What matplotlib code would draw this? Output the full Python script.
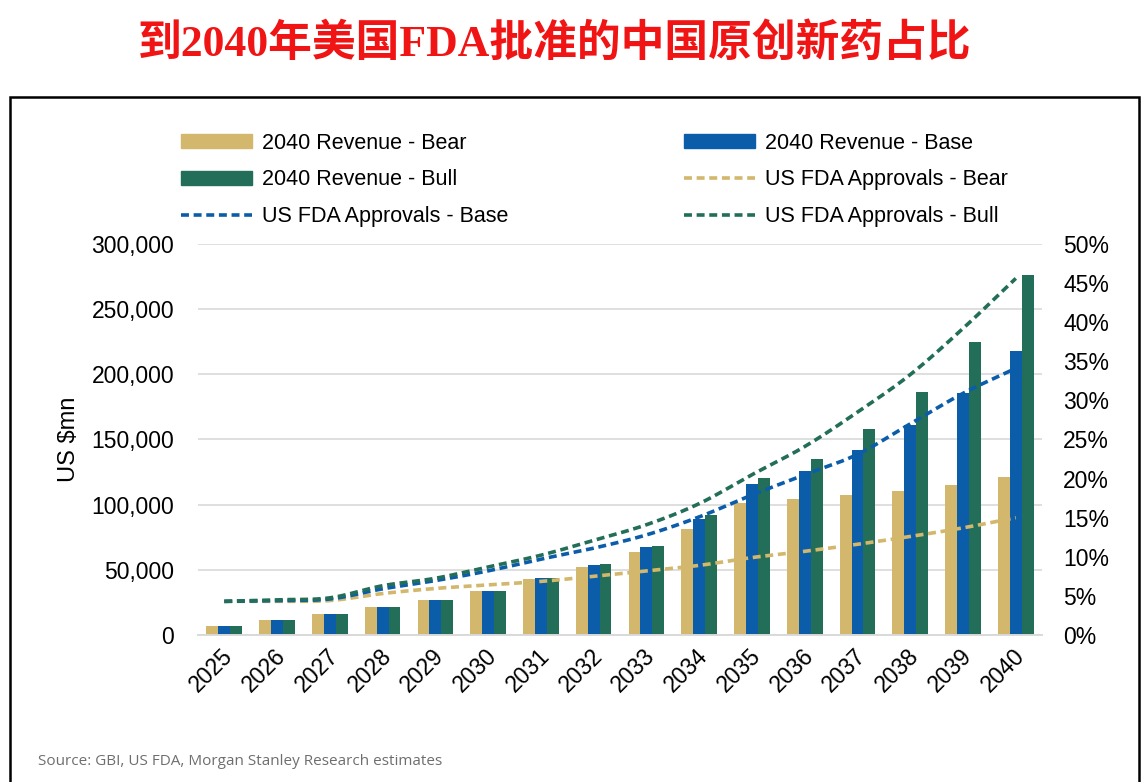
import matplotlib.pyplot as plt
import matplotlib.transforms as mtransforms
from matplotlib.patches import Patch, Rectangle
from matplotlib.lines import Line2D
from matplotlib.ticker import FuncFormatter
import numpy as np

years = [str(y) for y in range(2025, 2041)]

rev_bear = [7000, 11500, 16000, 21300, 26900, 33500, 43000, 52200, 63900, 81300,
            101500, 104100, 107400, 110700, 115100, 121500]
rev_base = [7000, 11500, 16000, 21300, 26900, 33500, 44000, 53800, 67300, 89000,
            115600, 126100, 141900, 161100, 185900, 217900]
rev_bull = [7000, 11500, 16000, 21300, 26900, 33500, 44000, 54500, 68300, 92100,
            120700, 134800, 157800, 186400, 224500, 276200]

appr_bear = [4.3, 4.3, 4.4, 5.3, 5.95, 6.4, 6.85, 7.5, 8.2, 8.9,
             9.9, 10.7, 11.6, 12.6, 13.7, 15.0]
appr_base = [4.3, 4.4, 4.6, 5.9, 6.95, 8.2, 9.7, 11.1, 12.8, 15.1,
             17.9, 20.5, 23.1, 27.0, 30.9, 34.1]
appr_bull = [4.3, 4.5, 4.75, 6.3, 7.25, 8.7, 10.2, 12.1, 14.1, 16.8,
             20.5, 24.1, 28.5, 33.3, 39.2, 45.6]

c_bear = '#D2B76C'
c_base = '#0B5DAA'
c_bull = '#236E58'


def smooth(xs, ys, n=20):
    # catmull-rom, close to excel's smoothed line
    xs = np.asarray(xs, float)
    ys = np.asarray(ys, float)
    px = np.concatenate([[2 * xs[0] - xs[1]], xs, [2 * xs[-1] - xs[-2]]])
    py = np.concatenate([[2 * ys[0] - ys[1]], ys, [2 * ys[-1] - ys[-2]]])
    t = np.linspace(0, 1, n, endpoint=False)
    out_x, out_y = [], []
    for i in range(1, len(px) - 2):
        for p, out in ((px, out_x), (py, out_y)):
            p0, p1, p2, p3 = p[i - 1], p[i], p[i + 1], p[i + 2]
            out.extend(0.5 * (2 * p1 + (-p0 + p2) * t + (2 * p0 - 5 * p1 + 4 * p2 - p3) * t ** 2
                              + (-p0 + 3 * p1 - 3 * p2 + p3) * t ** 3))
    out_x.append(xs[-1])
    out_y.append(ys[-1])
    return out_x, out_y


plt.rcParams['font.family'] = ['Liberation Sans', 'DejaVu Sans']

fig = plt.figure(figsize=(11.44, 7.82), dpi=100)
ax = fig.add_axes([0.173, 0.188, 0.738, 0.5])
ax2 = ax.twinx()

x = np.arange(len(years))
w = 0.225
ax.bar(x - w, rev_bear, w, color=c_bear, zorder=2)
ax.bar(x, rev_base, w, color=c_base, zorder=2)
ax.bar(x + w, rev_bull, w, color=c_bull, zorder=2)

dash = (2.2, 1.3)
for vals, c in ((appr_bear, c_bear), (appr_base, c_base), (appr_bull, c_bull)):
    sx, sy = smooth(x, vals)
    ax2.plot(sx, sy, color=c, lw=2.6, dashes=dash)

ax.set_xlim(-0.5, len(years) - 0.5)
ax.set_ylim(0, 300000)
ax.set_yticks(range(0, 300001, 50000))
ax.yaxis.set_major_formatter(FuncFormatter(lambda v, p: f'{int(v):,}'))
ax2.set_ylim(0, 50)
ax2.set_yticks(range(0, 51, 5))
ax2.yaxis.set_major_formatter(FuncFormatter(lambda v, p: f'{int(v)}%'))

ax.grid(axis='y', color='#D9D9D9', lw=1.2, zorder=0)
for a in (ax, ax2):
    for s in ('top', 'left', 'right'):
        a.spines[s].set_visible(False)
    a.spines['bottom'].set_color('#D9D9D9')
    a.spines['bottom'].set_linewidth(1.2)
    a.tick_params(length=0, labelsize=16.5)
ax.tick_params(axis='y', pad=17)
ax2.tick_params(axis='y', pad=15)

ax.set_xticks(x)
ax.set_xticklabels(years, rotation=45, ha='right', rotation_mode='anchor')
ax.tick_params(axis='x', pad=7)
shift = mtransforms.ScaledTranslation(-0.03, 0, fig.dpi_scale_trans)
for lab in ax.get_xticklabels():
    lab.set_transform(lab.get_transform() + shift)

ax.set_ylabel('US $mn', fontsize=17, labelpad=8)

handles = [
    Patch(color=c_bear), Patch(color=c_bull),
    Line2D([], [], color=c_base, lw=2.6, dashes=dash),
    Patch(color=c_base),
    Line2D([], [], color=c_bear, lw=2.6, dashes=dash),
    Line2D([], [], color=c_bull, lw=2.6, dashes=dash),
]
labels = ['2040 Revenue - Bear', '2040 Revenue - Bull', 'US FDA Approvals - Base',
          '2040 Revenue - Base', 'US FDA Approvals - Bear', 'US FDA Approvals - Bull']
fig.legend(handles, labels, ncol=2, loc='center', bbox_to_anchor=(0.5195, 0.77),
           frameon=False, fontsize=15.5, handlelength=3.3, handleheight=0.6,
           handletextpad=0.45, columnspacing=8.15, labelspacing=0.72)

fig.text(0.485, 0.944, '到2040年美国FDA批准的中国原创新药占比', ha='center', va='center',
         fontsize=31.5, fontweight='bold', color='#F01414',
         family=['Liberation Serif', 'Noto Sans CJK SC'])

fig.text(0.033, 0.022, 'Source: GBI, US FDA, Morgan Stanley Research estimates',
         fontsize=11, color='#6E6E6E', family=['Open Sans', 'DejaVu Sans'])

fig.patches.append(Rectangle((0.009, -0.01), 0.987, 0.886, transform=fig.transFigure,
                             fill=False, ec='black', lw=1.8))

fig.savefig('out.png', dpi=100)
